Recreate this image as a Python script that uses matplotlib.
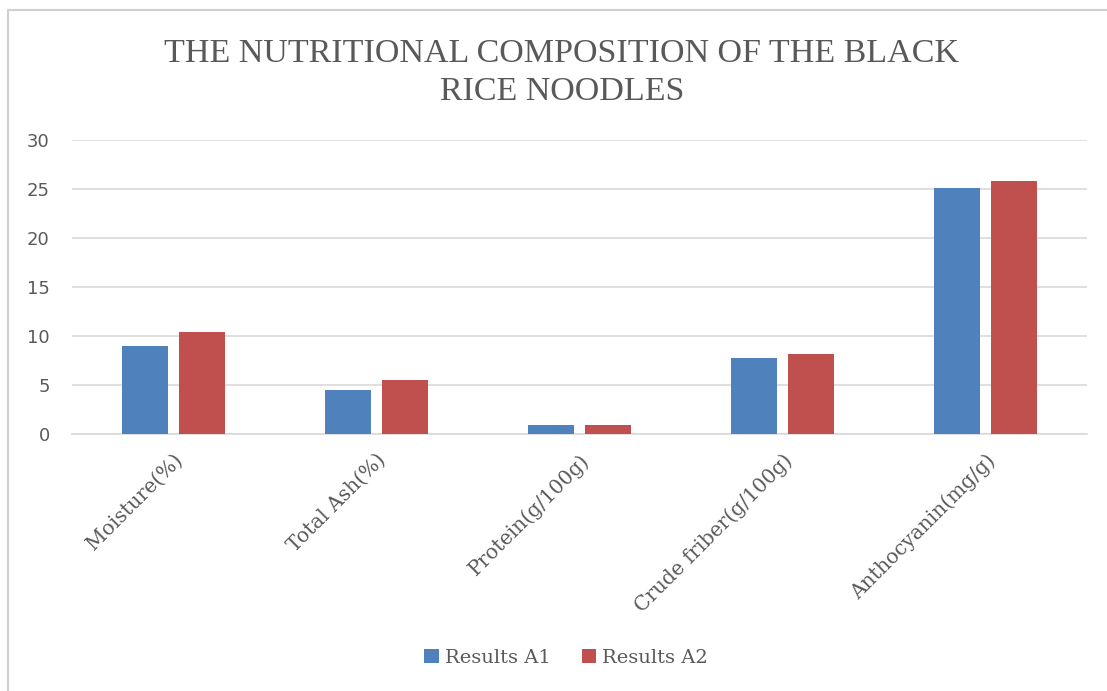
import matplotlib.pyplot as plt
import numpy as np
from matplotlib.lines import Line2D

categories = ["Moisture(%)", "Total Ash(%)", "Protein(g/100g)", "Crude friber(g/100g)", "Anthocyanin(mg/g)"]
results_a1 = [9.0, 4.5, 0.9, 7.8, 25.1]
results_a2 = [10.4, 5.5, 0.9, 8.2, 25.8]
series_names = ["Results A1", "Results A2"]
y_ticks = [0, 5, 10, 15, 20, 25, 30]

BLUE = "#4f81bd"
RED = "#c0504d"
GRID = "#d9d9d9"
TEXT = "#595959"

fig = plt.figure(figsize=(11.07, 6.91), dpi=100)
ax = fig.add_axes([72 / 1107, 1 - 434 / 691, 1015 / 1107, 294 / 691])

x = np.arange(len(categories))
width = 0.227
offset = 0.14
ax.bar(x - offset, results_a1, width, color=BLUE, label=series_names[0], zorder=3)
ax.bar(x + offset, results_a2, width, color=RED, label=series_names[1], zorder=3)

ax.set_xlim(-0.5, len(categories) - 0.5)
ax.set_ylim(0, 30)
ax.set_yticks(y_ticks)
ax.yaxis.grid(True, color=GRID, linewidth=1.2, zorder=0)
for side in ["top", "right", "left"]:
    ax.spines[side].set_visible(False)
ax.spines["bottom"].set_color(GRID)
ax.spines["bottom"].set_linewidth(1.2)
ax.tick_params(axis="both", length=0)
ax.tick_params(axis="y", pad=16, labelsize=13, labelcolor=TEXT)
for lbl in ax.get_yticklabels():
    lbl.set_fontfamily("DejaVu Sans")

ax.set_xticks(x)
ax.set_xticklabels(categories, rotation=45, ha="right", va="top",
                   rotation_mode="anchor", fontsize=14.5, color=TEXT,
                   fontfamily="DejaVu Serif")
ax.tick_params(axis="x", pad=12)

fig.text(562 / 1107, 1 - 73 / 691, "THE NUTRITIONAL COMPOSITION OF THE BLACK\nRICE NOODLES",
         ha="center", va="center", fontsize=24.5, color=TEXT,
         fontfamily="Liberation Serif", linespacing=1.3)

leg = fig.legend(loc="center", bbox_to_anchor=(566 / 1107, 1 - 658 / 691), ncol=2,
                 frameon=False, handlelength=0.75, handleheight=0.75,
                 handletextpad=0.3, columnspacing=1.6,
                 prop={"family": "DejaVu Serif", "size": 14})
for t in leg.get_texts():
    t.set_color(TEXT)

# chart frame (only top and left edges visible)
fig.add_artist(Line2D([8 / 1107, 1], [1 - 10 / 691, 1 - 10 / 691], color="#d0d0d0",
                      linewidth=1.5, transform=fig.transFigure))
fig.add_artist(Line2D([8 / 1107, 8 / 1107], [0, 1 - 10 / 691], color="#d0d0d0",
                      linewidth=1.5, transform=fig.transFigure))

fig.savefig("out.png", dpi=100)
